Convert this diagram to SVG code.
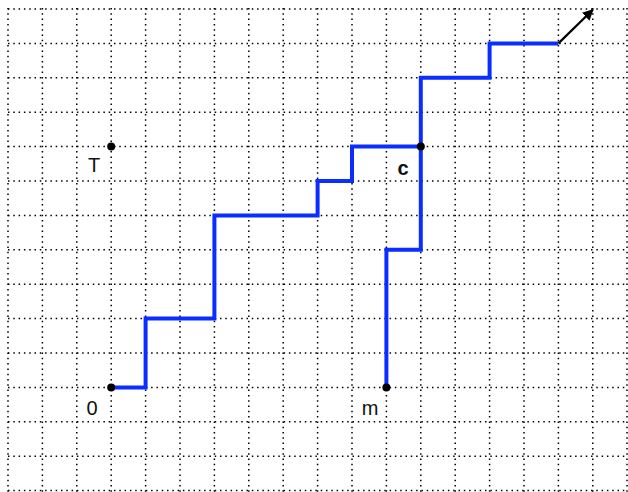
<svg xmlns="http://www.w3.org/2000/svg" width="628" height="492" viewBox="0 0 628 492">
<style>
.g{stroke:#000;stroke-width:1.5;stroke-dasharray:1.5 3.8;fill:none}
.p{stroke:#0a2eff;stroke-width:4;fill:none;stroke-linejoin:miter;stroke-linecap:butt}
.lbl{font-family:"Liberation Sans",Arial,sans-serif;font-size:20px;fill:#111}
</style>
<defs>
<marker id="ah" viewBox="0 0 10 10" refX="9" refY="5" markerWidth="5" markerHeight="5" orient="auto" markerUnits="strokeWidth">
<path d="M0,0 L10,5 L0,10 z" fill="#000"/>
</marker>
</defs>
<rect width="628" height="492" fill="#fff"/>
<g id="grid" transform="translate(0,1)">
<path class="g" d="M8,7V492M42.4,7V492M76.8,7V492M111.2,7V492M145.6,7V492M180,7V492M214.4,7V492M248.8,7V492M283.2,7V492M317.6,7V492M352,7V492M386.4,7V492M420.8,7V492M455.2,7V492M489.6,7V492M524,7V492M558.4,7V492M592.8,7V492M627,7V492"/>
<path class="g" d="M8,8H628M8,42.4H628M8,76.8H628M8,111.2H628M8,145.6H628M8,180H628M8,214.4H628M8,248.8H628M8,283.2H628M8,317.6H628M8,352H628M8,386.4H628M8,420.8H628M8,455.2H628M8,489.6H628"/>
</g>
<g id="connectors" transform="translate(0,1)">
<path class="p" d="M111.2,386.4H145.6V317.6H214.4V214.4H317.6V180H352V145.6H420.8V76.8H489.6V42.4H558.4"/>
<path class="p" d="M386.4,386.4V248.8H420.8V145.6"/>
<line x1="558.4" y1="42.4" x2="592.8" y2="8.8" stroke="#000" stroke-width="2.2" marker-end="url(#ah)"/>
</g>
<g id="node-0">
<circle cx="111.2" cy="387.4" r="4" fill="#000"/>
<text class="lbl" x="92" y="415" text-anchor="middle">0</text>
</g>
<g id="node-T">
<circle cx="111.2" cy="146.6" r="4" fill="#000"/>
<text class="lbl" x="94" y="172" text-anchor="middle">T</text>
</g>
<g id="node-m">
<circle cx="386.4" cy="387.4" r="4" fill="#000"/>
<text class="lbl" x="370" y="415" text-anchor="middle">m</text>
</g>
<g id="node-c">
<circle cx="420.8" cy="146.6" r="4" fill="#000"/>
<text class="lbl" x="403" y="175" text-anchor="middle" font-weight="bold">c</text>
</g>
</svg>
